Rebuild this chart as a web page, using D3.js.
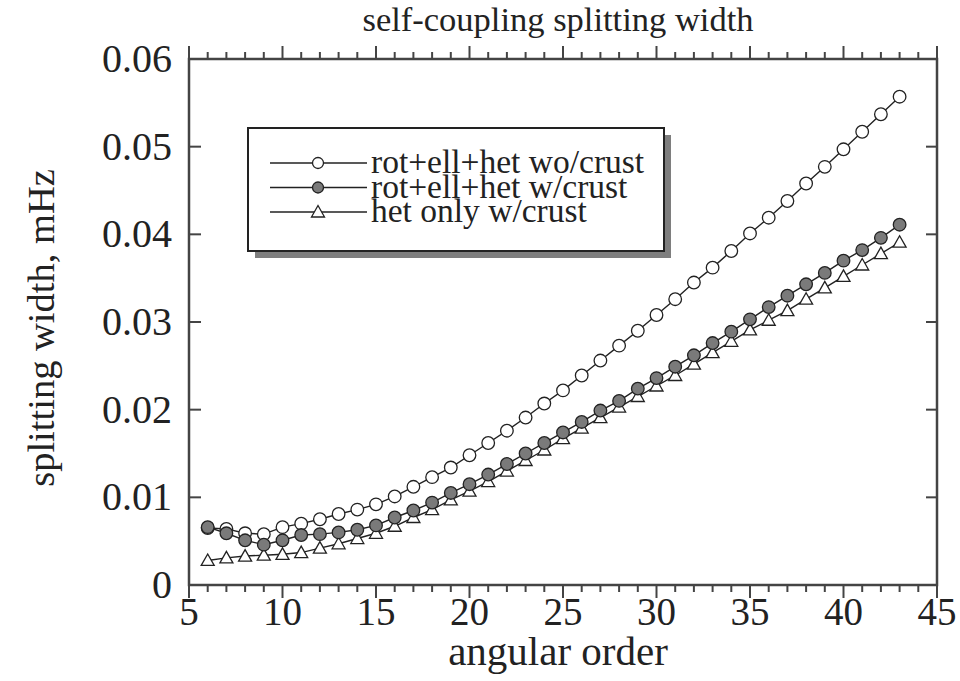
<!DOCTYPE html>
<html>
<head>
<meta charset="utf-8">
<script src="https://cdn.jsdelivr.net/npm/d3@7"></script>
<style>
  html, body { margin: 0; padding: 0; background: #fff; }
  svg { display: block; }
  text { font-family: "Liberation Serif", "Times New Roman", serif; fill: #222; }
</style>
</head>
<body>
<svg id="chart" width="960" height="681"></svg>
<script>
// angular order l
const orders = d3.range(6, 44);

// splitting width (mHz) per angular order
const rotEllHetNoCrust = [
  0.0065, 0.0064, 0.0059, 0.0058, 0.0066, 0.0070, 0.0075, 0.0081, 0.0086, 0.0092,
  0.0101, 0.0112, 0.0123, 0.0134, 0.0148, 0.0162, 0.0176, 0.0191, 0.0207, 0.0222,
  0.0239, 0.0256, 0.0273, 0.0290, 0.0308, 0.0326, 0.0345, 0.0362, 0.0381, 0.0401,
  0.0419, 0.0438, 0.0458, 0.0477, 0.0497, 0.0517, 0.0537, 0.0557
];
const rotEllHetCrust = [
  0.0066, 0.0059, 0.0051, 0.0046, 0.0051, 0.0057, 0.0058, 0.0060, 0.0063, 0.0068,
  0.0077, 0.0085, 0.0094, 0.0105, 0.0115, 0.0126, 0.0138, 0.0150, 0.0162, 0.0174,
  0.0186, 0.0199, 0.0210, 0.0224, 0.0236, 0.0249, 0.0262, 0.0276, 0.0289, 0.0303,
  0.0317, 0.0330, 0.0343, 0.0356, 0.0370, 0.0382, 0.0396, 0.0411
];
const hetOnlyCrust = [
  0.0028, 0.0031, 0.0033, 0.0034, 0.0035, 0.0037, 0.0042, 0.0047, 0.0053, 0.0059,
  0.0067, 0.0077, 0.0086, 0.0097, 0.0107, 0.0118, 0.0130, 0.0142, 0.0154, 0.0167,
  0.0179, 0.0191, 0.0203, 0.0215, 0.0227, 0.0239, 0.0252, 0.0265, 0.0278, 0.0291,
  0.0302, 0.0313, 0.0326, 0.0339, 0.0352, 0.0365, 0.0378, 0.0391
];

const seriesNames = ["rot+ell+het wo/crust", "rot+ell+het w/crust", "het only w/crust"];
const xTickValues = [5, 10, 15, 20, 25, 30, 35, 40, 45];
const yTickValues = [0, 0.01, 0.02, 0.03, 0.04, 0.05, 0.06];
const yTickLabels = ["0", "0.01", "0.02", "0.03", "0.04", "0.05", "0.06"];

const svg = d3.select("#chart");
const plot = { left: 189, right: 937, top: 59, bottom: 585 };

const x = d3.scaleLinear().domain([5, 45]).range([plot.left, plot.right]);
const y = d3.scaleLinear().domain([0, 0.06]).range([plot.bottom, plot.top]);

const ink = "#222";
const frameInk = "#444";
const fillGray = "#7a7a7a";

// title
svg.append("text")
  .attr("x", 558).attr("y", 31)
  .attr("text-anchor", "middle")
  .attr("font-size", 34.5)
  .text("self-coupling splitting width");

// bottom and top: minor ticks every order, longer ticks every 5, pointing outward
const minorX = d3.range(5, 46);
const gB = svg.append("g").attr("transform", `translate(0,${plot.bottom})`);
gB.selectAll("line").data(minorX).join("line")
  .attr("x1", d => x(d)).attr("x2", d => x(d))
  .attr("y1", 0).attr("y2", d => d % 5 === 0 ? 13 : 7)
  .attr("stroke", frameInk).attr("stroke-width", 2);
gB.selectAll("text").data(xTickValues).join("text")
  .attr("x", d => x(d)).attr("y", 40)
  .attr("text-anchor", "middle").attr("font-size", 39)
  .text(d => d);

const gT = svg.append("g").attr("transform", `translate(0,${plot.top})`);
gT.selectAll("line").data(minorX).join("line")
  .attr("x1", d => x(d)).attr("x2", d => x(d))
  .attr("y1", 0).attr("y2", d => d % 5 === 0 ? -13 : -7)
  .attr("stroke", frameInk).attr("stroke-width", 2);

// left and right: ticks pointing inward
const gL = svg.append("g");
gL.selectAll("line").data(yTickValues).join("line")
  .attr("x1", plot.left).attr("x2", plot.left + 12)
  .attr("y1", d => y(d)).attr("y2", d => y(d))
  .attr("stroke", frameInk).attr("stroke-width", 2);
gL.selectAll("text").data(yTickValues).join("text")
  .attr("x", plot.left - 17).attr("y", d => y(d) + 13)
  .attr("text-anchor", "end").attr("font-size", 40)
  .text((d, i) => yTickLabels[i]);

const gR = svg.append("g");
gR.selectAll("line").data(yTickValues).join("line")
  .attr("x1", plot.right).attr("x2", plot.right - 11)
  .attr("y1", d => y(d)).attr("y2", d => y(d))
  .attr("stroke", frameInk).attr("stroke-width", 2);

// frame
svg.append("rect")
  .attr("x", plot.left).attr("y", plot.top)
  .attr("width", plot.right - plot.left).attr("height", plot.bottom - plot.top)
  .attr("fill", "none").attr("stroke", frameInk).attr("stroke-width", 2.5);

// axis titles
svg.append("text")
  .attr("x", 558).attr("y", 665)
  .attr("text-anchor", "middle").attr("font-size", 41)
  .text("angular order");
svg.append("text")
  .attr("transform", `translate(54,328) rotate(-90)`)
  .attr("text-anchor", "middle").attr("font-size", 38.5)
  .text("splitting width, mHz");

// series (filled circles drawn last so they sit on top)
const series = [
  { name: seriesNames[0], values: rotEllHetNoCrust, marker: "open" },
  { name: seriesNames[2], values: hetOnlyCrust, marker: "tri" },
  { name: seriesNames[1], values: rotEllHetCrust, marker: "filled" }
];

const line = d3.line().x(d => x(d[0])).y(d => y(d[1]));
const triPath = "M0,-6.5L6.5,5L-6.5,5Z";

function drawMarker(sel, kind, r) {
  if (kind === "tri") {
    sel.append("path").attr("d", triPath)
      .attr("fill", "#fff").attr("stroke", ink).attr("stroke-width", 1.3);
  } else {
    sel.append("circle").attr("r", r)
      .attr("fill", kind === "open" ? "#fff" : fillGray)
      .attr("stroke", ink).attr("stroke-width", 1.3);
  }
}

series.forEach(s => {
  const pts = orders.map((o, i) => [o, s.values[i]]);
  svg.append("path").datum(pts)
    .attr("d", line).attr("fill", "none")
    .attr("stroke", ink).attr("stroke-width", 1.4);
  const g = svg.append("g");
  g.selectAll("g").data(pts).join("g")
    .attr("transform", d => `translate(${x(d[0])},${y(d[1])})`)
    .each(function () { drawMarker(d3.select(this), s.marker, 6.3); });
});

// legend with drop shadow
const lg = { x: 248, y: 128, w: 416, h: 123, shadow: 7 };
svg.append("rect")
  .attr("x", lg.x + lg.shadow).attr("y", lg.y + lg.shadow)
  .attr("width", lg.w).attr("height", lg.h)
  .attr("fill", "#7e7e7e");
svg.append("rect")
  .attr("x", lg.x).attr("y", lg.y).attr("width", lg.w).attr("height", lg.h)
  .attr("fill", "#fff").attr("stroke", ink).attr("stroke-width", 2);

const legendRows = [
  { name: seriesNames[0], marker: "open" },
  { name: seriesNames[1], marker: "filled" },
  { name: seriesNames[2], marker: "tri" }
];
const rowY = d3.scalePoint().domain(legendRows.map(r => r.name)).range([163, 212]);
legendRows.forEach(r => {
  const yy = rowY(r.name);
  svg.append("line").attr("x1", 270).attr("x2", 367)
    .attr("y1", yy).attr("y2", yy)
    .attr("stroke", ink).attr("stroke-width", 1.3);
  const m = svg.append("g").attr("transform", `translate(318,${yy})`);
  drawMarker(m, r.marker, 5.5);
  svg.append("text").attr("x", 371).attr("y", yy + 10)
    .attr("font-size", 33.5).text(r.name);
});
</script>
</body>
</html>
